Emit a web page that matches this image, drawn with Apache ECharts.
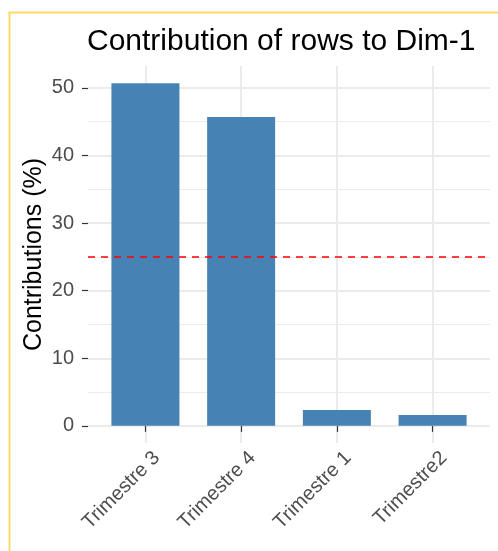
<!DOCTYPE html>
<html>
<head>
<meta charset="utf-8">
<script src="https://cdn.jsdelivr.net/npm/echarts@6/dist/echarts.min.js"></script>
<style>
  html, body { margin: 0; padding: 0; background: #ffffff; }
  #chart { width: 498px; height: 551px; }
</style>
</head>
<body>
<div id="chart"></div>
<script>
// ---- data ----
const categories = ['Trimestre 3', 'Trimestre 4', 'Trimestre 1', 'Trimestre2'];
const contributions = [50.7, 45.7, 2.35, 1.6];
const referenceLine = 25;
const yTickValues = [0, 10, 20, 30, 40, 50];
const yMinorValues = [5, 15, 25, 35, 45];
const titleText = 'Contribution of rows to Dim-1';
const yAxisTitle = 'Contributions (%)';

// ---- build ----
const positions = categories.map((c, i) => i + 1);
const dataMax = Math.max.apply(null, contributions);
const expand = 0.05 * dataMax;
const font = '"Liberation Sans", Arial, sans-serif';

const gridLines = [];
yTickValues.forEach(v => gridLines.push({ yAxis: v, lineStyle: { color: '#EBEBEB', width: 2, type: 'solid' } }));
yMinorValues.forEach(v => gridLines.push({ yAxis: v, lineStyle: { color: '#EBEBEB', width: 1, type: 'solid' } }));
positions.forEach(p => gridLines.push({ xAxis: p, lineStyle: { color: '#EBEBEB', width: 2, type: 'solid' } }));

const chart = echarts.init(document.getElementById('chart'), null, { renderer: 'canvas' });
chart.setOption({
  animation: false,
  backgroundColor: '#ffffff',
  title: {
    text: titleText,
    left: 87,
    top: 26,
    padding: 0,
    textStyle: { fontFamily: font, fontSize: 30, fontWeight: 'normal', color: '#000000', lineHeight: 32 }
  },
  grid: { left: 88, right: 8, top: 66, bottom: 108, containLabel: false },
  xAxis: {
    type: 'value',
    min: 1 - 0.6,
    max: categories.length + 0.6,
    splitLine: { show: false },
    axisLine: { show: false },
    axisTick: { show: true, customValues: positions, length: 6, lineStyle: { color: '#333333', width: 1.2 } },
    axisLabel: {
      customValues: positions,
      formatter: v => categories[Math.round(v) - 1] || '',
      rotate: 45,
      align: 'right',
      verticalAlign: 'top',
      margin: 9,
      padding: [0, -6, 0, 0],
      fontFamily: font,
      fontSize: 20,
      color: '#4D4D4D'
    }
  },
  yAxis: {
    type: 'value',
    min: -expand,
    max: dataMax + expand,
    splitLine: { show: false },
    axisLine: { show: false },
    axisTick: { show: true, customValues: yTickValues, length: 6, lineStyle: { color: '#333333', width: 1.2 } },
    axisLabel: {
      customValues: yTickValues,
      margin: 14,
      fontFamily: font,
      fontSize: 20,
      color: '#4D4D4D'
    },
    name: yAxisTitle,
    nameLocation: 'middle',
    nameGap: 41,
    nameRotate: 90,
    nameMoveOverlap: false,
    nameTextStyle: { fontFamily: font, fontSize: 25, color: '#000000' }
  },
  graphic: [{
    type: 'polyline',
    shape: { points: [[9.5, 551], [9.5, 12.5], [498, 12.5]] },
    style: { stroke: '#FFD966', lineWidth: 2, fill: null },
    silent: true
  }],
  series: [
    {
      type: 'scatter',
      data: [],
      z: 0,
      silent: true,
      markLine: { silent: true, z: 0, symbol: 'none', label: { show: false }, animation: false, data: gridLines }
    },
    {
      type: 'bar',
      z: 3,
      barWidth: 68,
      itemStyle: { color: '#4682B4' },
      data: contributions.map((v, i) => [positions[i], v]),
      markLine: {
        silent: true,
        z: 6,
        symbol: 'none',
        label: { show: false },
        animation: false,
        lineStyle: { color: '#FF0000', type: [7, 6], width: 1.5 },
        data: [{ yAxis: referenceLine }]
      }
    }
  ]
});
</script>
</body>
</html>
